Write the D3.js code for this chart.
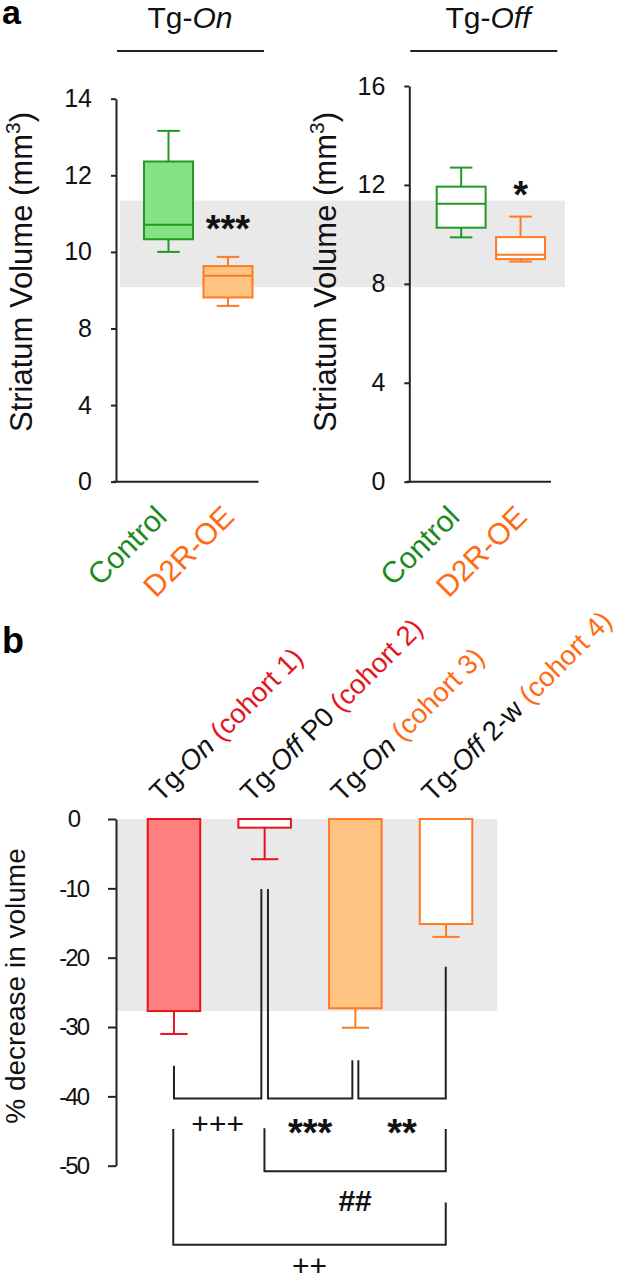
<!DOCTYPE html>
<html><head><meta charset="utf-8">
<script src="https://cdn.jsdelivr.net/npm/d3@7"></script>
<style>
body{margin:0;background:#fff}
svg{display:block}
text{font-family:"Liberation Sans",Arial,Helvetica,sans-serif}
</style>
</head><body>
<svg id="chart" width="622" height="1280"></svg>
<script>
// ---------------- DATA ----------------
const groupsA = ["Control", "D2R-OE"];
const tgOnTicks = [0, 4, 8, 10, 12, 14];
const tgOffTicks = [0, 4, 8, 12, 16];

const tgOnMin = [10.0, 8.59];
const tgOnQ1  = [10.33, 8.81];
const tgOnMed = [10.71, 9.38];
const tgOnQ3  = [12.36, 9.63];
const tgOnMax = [13.16, 9.87];

const tgOffMin = [9.88, 8.90];
const tgOffQ1  = [10.27, 9.00];
const tgOffMed = [11.24, 9.18];
const tgOffQ3  = [11.93, 9.89];
const tgOffMax = [12.70, 10.72];

const controlRangeA = [9.08, 11.34];
const sigLabelsA = ["***", "*"];
const sigValuesA = [10.8, 11.93];

const cohortNames = ["Tg-On (cohort 1)", "Tg-Off P0 (cohort 2)", "Tg-On (cohort 3)", "Tg-Off 2-w (cohort 4)"];
const cohortPrefix = ["Tg-", "Tg-", "Tg-", "Tg-"];
const cohortState = ["On", "Off", "On", "Off"];
const cohortSuffix = ["", " P0", "", " 2-w"];
const cohortTag = [" (cohort 1)", " (cohort 2)", " (cohort 3)", " (cohort 4)"];
const pctDecrease = [-27.7, -1.25, -27.3, -15.15];
const pctErr = [-31.0, -5.8, -30.1, -17.0];
const pctTicks = [0, -10, -20, -30, -40, -50];
const controlRangeB = [0, -27.7];

const compFrom = [0, 1, 2, 1, 0];
const compTo = [1, 2, 3, 3, 3];
const compLabel = ["+++", "***", "**", "##", "++"];
const compLeftTop = [-35.6, -10.1, -34.8, -44.6, -44.7];
const compRightTop = [-10.1, -34.8, -21.3, -44.7, -55.3];
const compBase = [-40.3, -40.3, -40.3, -50.8, -61.4];
const compLabelAt = [-44.1, -44.1, -44.1, -54.9, -64.6];

// ---------------- STYLE / LAYOUT ----------------
const FONT = '"Liberation Sans",Arial,Helvetica,sans-serif';
const AX = "#222";
const green = "#1f9a22", greenFill = "#84e283", greenText = "#1e8a1e";
const orange = "#ff7a22", orangeFill = "#ffc482", orangeText = "#ff6a13";
const red = "#e5151f", redFill = "#ff7e7e";
const bandGray = "#e9e9e9";
const catLabelDx = [0, 8];

const svg = d3.select("#chart");

// ---------- Panel a ----------
const aBottom = 481.7;
const panels = [
  {axisX: 116, band: [144, 252.5], top: 98.7, ticks: tgOnTicks, title: ["Tg-", "On"], titleX: 190,
   min: tgOnMin, q1: tgOnQ1, med: tgOnMed, q3: tgOnQ3, max: tgOnMax, filled: true, labelX: 32},
  {axisX: 409.3, band: [436.7, 545], top: 86, ticks: tgOffTicks, title: ["Tg-", "Off"], titleX: 488,
   min: tgOffMin, q1: tgOffQ1, med: tgOffMed, q3: tgOffQ3, max: tgOffMax, filled: false, labelX: 336}
];

panels.forEach(p => {
  const n = p.ticks.length - 1;
  p.y = d3.scaleLinear().domain(p.ticks)
    .range(p.ticks.map((d, i) => aBottom - i * (aBottom - p.top) / n));
  p.x = d3.scaleBand().domain(groupsA).range(p.band).paddingInner(0.176).paddingOuter(0);
});

// gray band across both subplots (left axis units)
const yL = panels[0].y;
svg.append("rect")
  .attr("x", panels[0].axisX + 4).attr("width", panels[1].band[1] + 20 - (panels[0].axisX + 4))
  .attr("y", yL(controlRangeA[1])).attr("height", yL(controlRangeA[0]) - yL(controlRangeA[1]))
  .attr("fill", bandGray);

svg.append("text").attr("x", 2).attr("y", 24).attr("font-size", 34).attr("font-weight", "bold").text("a");

panels.forEach((p, pi) => {
  const g = svg.append("g");
  // title
  const t = g.append("text").attr("x", p.titleX).attr("y", 28).attr("text-anchor", "middle")
    .attr("font-size", 30).attr("fill", "#111");
  t.append("tspan").text(p.title[0]);
  t.append("tspan").attr("font-style", "italic").text(p.title[1]);
  g.append("line").attr("x1", p.axisX + 1).attr("x2", p.axisX + 148).attr("y1", 51).attr("y2", 51)
    .attr("stroke", AX).attr("stroke-width", 2);

  // y axis
  const ax = g.append("g").attr("transform", `translate(${p.axisX},0)`)
    .call(d3.axisLeft(p.y).tickValues(p.ticks).tickFormat(d3.format("d")).tickSize(5).tickSizeOuter(0).tickPadding(19));
  ax.select(".domain").attr("stroke", AX).attr("stroke-width", 2);
  ax.selectAll(".tick line").attr("stroke", AX).attr("stroke-width", 2);
  ax.selectAll(".tick text").attr("font-size", 25).attr("font-family", FONT).attr("fill", "#111");

  // x axis line
  g.append("line").attr("x1", p.axisX - 3).attr("x2", p.band[1] + 6)
    .attr("y1", aBottom).attr("y2", aBottom).attr("stroke", AX).attr("stroke-width", 2);

  // y label
  const yl = g.append("text").attr("transform", `translate(${p.labelX},272) rotate(-90)`)
    .attr("text-anchor", "middle").attr("font-size", 31).attr("fill", "#111");
  yl.append("tspan").text("Striatum Volume (mm");
  yl.append("tspan").attr("font-size", 21).attr("dy", -12).text("3");
  yl.append("tspan").attr("dy", 12).text(")");

  // boxes
  groupsA.forEach((cat, i) => {
    const cx = p.x(cat) + p.x.bandwidth() / 2;
    const stroke = i === 0 ? green : orange;
    const fill = p.filled ? (i === 0 ? greenFill : orangeFill) : "#fff";
    const cap = p.x.bandwidth() * 0.46;
    const bg = g.append("g").attr("stroke", stroke).attr("stroke-width", 2);
    bg.append("line").attr("x1", cx).attr("x2", cx).attr("y1", p.y(p.max[i])).attr("y2", p.y(p.q3[i]));
    bg.append("line").attr("x1", cx).attr("x2", cx).attr("y1", p.y(p.q1[i])).attr("y2", p.y(p.min[i]));
    bg.append("line").attr("x1", cx - cap / 2).attr("x2", cx + cap / 2).attr("y1", p.y(p.max[i])).attr("y2", p.y(p.max[i]));
    bg.append("line").attr("x1", cx - cap / 2).attr("x2", cx + cap / 2).attr("y1", p.y(p.min[i])).attr("y2", p.y(p.min[i]));
    bg.append("rect").attr("x", p.x(cat)).attr("width", p.x.bandwidth())
      .attr("y", p.y(p.q3[i])).attr("height", p.y(p.q1[i]) - p.y(p.q3[i])).attr("fill", fill);
    bg.append("line").attr("x1", p.x(cat)).attr("x2", p.x(cat) + p.x.bandwidth())
      .attr("y1", p.y(p.med[i])).attr("y2", p.y(p.med[i]));

    // category label
    g.append("text").attr("transform", `translate(${cx + catLabelDx[i]},${aBottom + 37}) rotate(-45)`)
      .attr("text-anchor", "end").attr("font-size", 30).attr("fill", i === 0 ? greenText : orangeText)
      .text(cat);
  });

  // significance
  const sx = p.x(groupsA[1]) + p.x.bandwidth() / 2;
  g.append("text").attr("x", sx).attr("y", p.y(sigValuesA[pi]) + 21).attr("text-anchor", "middle")
    .attr("font-size", 38).attr("font-weight", "bold").attr("fill", "#111").text(sigLabelsA[pi]);
});

// ---------- Panel b ----------
const bAxisX = 116;
const yB = d3.scaleLinear().domain([0, -50]).range([819, 1165.7]);
const xB = d3.scaleBand().domain(cohortNames).range([147.7, 472.3]).paddingInner(0.421).paddingOuter(0);
const cB = i => xB(cohortNames[i]) + xB.bandwidth() / 2;

svg.append("text").attr("x", 2).attr("y", 653).attr("font-size", 36).attr("font-weight", "bold").text("b");

svg.append("rect").attr("x", bAxisX + 1).attr("width", 472.3 + 25 - bAxisX - 1)
  .attr("y", yB(controlRangeB[0])).attr("height", yB(controlRangeB[1]) - yB(controlRangeB[0]))
  .attr("fill", bandGray);

const axB = svg.append("g").attr("transform", `translate(${bAxisX},0)`)
  .call(d3.axisLeft(yB).tickValues(pctTicks).tickSize(8).tickSizeOuter(0).tickPadding(20)
    .tickFormat(d => d === 0 ? "0" : "-" + Math.abs(d)));
axB.select(".domain").attr("stroke", AX).attr("stroke-width", 2);
axB.selectAll(".tick line").attr("stroke", AX).attr("stroke-width", 2);
axB.selectAll(".tick text").attr("font-size", 24).attr("font-family", FONT).attr("fill", "#111")
  .attr("letter-spacing", d => d === 0 ? 0 : -2)
  .attr("dx", d => d === 0 ? -7 : 0);

svg.append("text").attr("transform", `translate(25,986) rotate(-90)`).attr("text-anchor", "middle")
  .attr("font-size", 28).attr("fill", "#111").text("% decrease in volume");

const barStroke = [red, red, orange, orange];
const barFill = [redFill, "#fff", orangeFill, "#fff"];
const tagColor = [red, red, orangeText, orangeText];

cohortNames.forEach((c, i) => {
  const x = xB(c), cx = cB(i), w = xB.bandwidth();
  const cap = w * 0.52;
  const g = svg.append("g").attr("stroke", barStroke[i]).attr("stroke-width", 2);
  g.append("line").attr("x1", cx).attr("x2", cx).attr("y1", yB(pctDecrease[i])).attr("y2", yB(pctErr[i]));
  g.append("line").attr("x1", cx - cap / 2).attr("x2", cx + cap / 2).attr("y1", yB(pctErr[i])).attr("y2", yB(pctErr[i]));
  g.append("rect").attr("x", x).attr("width", w).attr("y", yB(0)).attr("height", yB(pctDecrease[i]) - yB(0))
    .attr("fill", barFill[i]);

  const t = svg.append("text").attr("transform", `translate(${cx - 13},803) rotate(-45)`)
    .attr("font-size", 27.5).attr("fill", "#111");
  t.append("tspan").text(cohortPrefix[i]);
  t.append("tspan").attr("font-style", "italic").text(cohortState[i]);
  t.append("tspan").text(cohortSuffix[i]);
  t.append("tspan").attr("fill", tagColor[i]).text(cohortTag[i]);
});

// comparison brackets
const leftNudge = [0, 3.3, 3, -0.2, -0.7];
const rightNudge = [-3.3, -3, -0.3, -0.3, -0.3];
compFrom.forEach((f, k) => {
  const x1 = cB(f) + leftNudge[k], x2 = cB(compTo[k]) + rightNudge[k];
  svg.append("path")
    .attr("d", `M${x1},${yB(compLeftTop[k])}V${yB(compBase[k])}H${x2}V${yB(compRightTop[k])}`)
    .attr("fill", "none").attr("stroke", AX).attr("stroke-width", 2);
  const isStar = compLabel[k].includes("*");
  const isHash = compLabel[k].includes("#");
  svg.append("text").attr("x", (x1 + x2) / 2)
    .attr("y", yB(compLabelAt[k]) + (isStar ? 21 : (isHash ? 11 : 9)))
    .attr("text-anchor", "middle").attr("font-size", isStar ? 38 : 30)
    .attr("font-weight", isStar || isHash ? "bold" : "normal").attr("fill", "#111").text(compLabel[k]);
});
</script>
</body></html>
